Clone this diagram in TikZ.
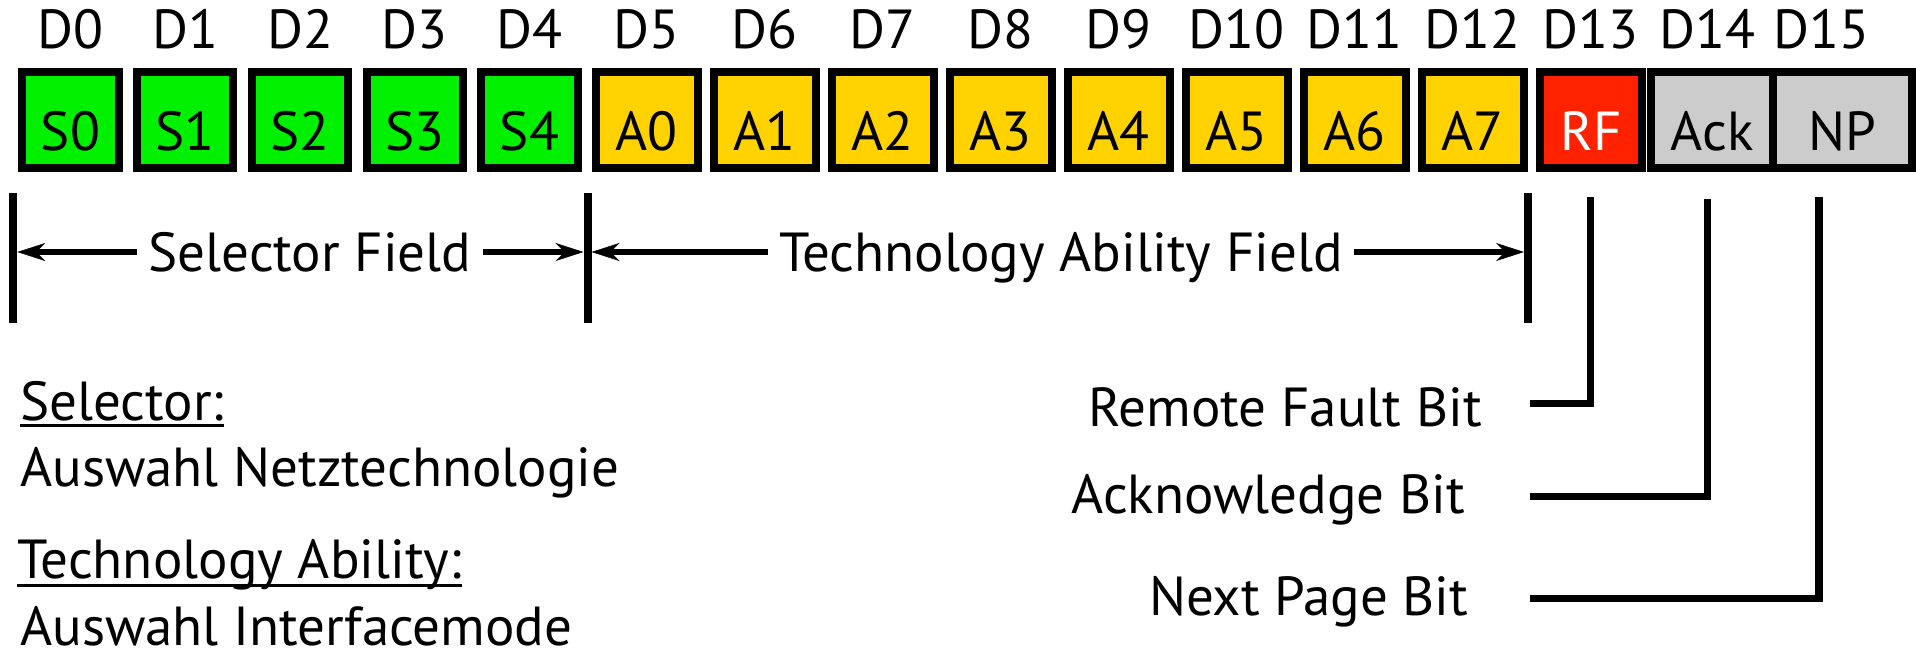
\documentclass[tikz,border=0pt]{standalone}
\usepackage{fontspec}
\setmainfont{PT Sans}
\usetikzlibrary{arrows.meta}
\definecolor{selgreen}{HTML}{00F000}
\definecolor{abilyellow}{HTML}{FFD200}
\definecolor{faultred}{HTML}{FF2200}
\definecolor{flaggrey}{HTML}{CCCCCC}
\begin{document}
\begin{tikzpicture}[x=1pt,y=-1pt,
  every node/.style={font=\fontsize{55}{60}\selectfont, inner sep=0pt},
  bitbox/.style={draw=black, line width=8pt, rectangle, minimum height=95.4pt,
                 text height=60pt, text depth=0pt},
  sbit/.style={bitbox, fill=selgreen, minimum width=96.4pt},
  abit/.style={bitbox, fill=abilyellow, minimum width=102pt},
  bitnum/.style={anchor=base},
  fieldbar/.style={line width=8pt},
  fieldlabel/.style={anchor=base, inner xsep=11pt},
  dimarrow/.style={line width=6pt,
                   -{Stealth[length=28pt,width=18pt,inset=9pt,line width=0.5pt]}},
  bitline/.style={line width=7.5pt, line join=miter},
  headline/.style={line width=3.5pt},
  note/.style={anchor=base west},
  bitname/.style={anchor=base east}
]
\useasboundingbox (0,0) rectangle (1916,648);

% selector bits S0..S4 (D0..D4)
\foreach \i in {0,...,4}{
  \node[sbit] (S\i) at ({70.5+114.75*\i},120) {S\i};
  \node[bitnum] (D\i) at ({70.5+114.75*\i},48.3) {D\i};
}
% technology ability bits A0..A7 (D5..D12)
\foreach \i in {0,...,7}{
  \pgfmathtruncatemacro\dn{\i+5}
  \node[abit] (A\i) at ({646.7+118*\i},120) {A\i};
  \node[bitnum] (D\dn) at ({646.7+118*\i},48.3) {D\dn};
}
% remote fault, acknowledge, next page (D13..D15)
\node[bitbox, fill=faultred, minimum width=102pt, text=white] (RF) at (1591,120) {RF};
\node[bitbox, fill=flaggrey, minimum width=122pt] (Ack) at (1712,120) {Ack};
\node[bitbox, fill=flaggrey, minimum width=139pt] (NP) at (1842.5,120) {NP};
\node[bitnum] (D13) at (1590,48.3) {D13};
\node[bitnum] (D14) at (1707.5,48.3) {D14};
\node[bitnum] (D15) at (1821,48.3) {D15};

% field boundaries
\coordinate (b0t) at (13.3,193.3);   \coordinate (b0b) at (13.3,323.3);
\coordinate (b1t) at (587.5,193.3);  \coordinate (b1b) at (587.5,323.3);
\coordinate (b2t) at (1528,193.3);   \coordinate (b2b) at (1528,323.3);
\draw[fieldbar] (b0t) -- (b0b);
\draw[fieldbar] (b1t) -- (b1b);
\draw[fieldbar] (b2t) -- (b2b);

% field labels with dimension arrows
\node[fieldlabel] (selfield) at (310,271) {Selector Field};
\node[fieldlabel] (tafield) at (1061,271) {Technology Ability Field};
\coordinate (selL) at (17.3,252);
\coordinate (selR) at (583.5,252);
\coordinate (taL) at (591.5,252);
\coordinate (taR) at (1524,252);
\draw[dimarrow] (selfield.west |- selL) -- (selL);
\draw[dimarrow] (selfield.east |- selR) -- (selR);
\draw[dimarrow] (tafield.west |- taL) -- (taL);
\draw[dimarrow] (tafield.east |- taR) -- (taR);

% explanations
\node[note] (selhead) at (20,420) {Selector:};
\draw[headline] ([yshift=-5.7pt]selhead.base west) -- ([yshift=-5.7pt]selhead.base east);
\node[note] (seltext) at (20,486.7) {Auswahl Netztechnologie};
\node[note] (tahead) at (17,578.3) {Technology Ability:};
\draw[headline] ([yshift=-7.3pt]tahead.base west) -- ([yshift=-7.3pt]tahead.base east);
\node[note] (tatext) at (20,645.5) {Auswahl Interfacemode};

% single bit names
\node[bitname] (rflab) at (1482,426) {Remote Fault Bit};
\node[bitname] (acklab) at (1465,513.3) {Acknowledge Bit};
\node[bitname] (nplab) at (1468.3,615) {Next Page Bit};
\coordinate (rftop) at (1590.5,196.7);  \coordinate (rfend) at (1530,403.7);
\coordinate (acktop) at (1707.5,199);   \coordinate (ackend) at (1530,496.3);
\coordinate (nptop) at (1819,196.7);    \coordinate (npend) at (1530,598.7);
\draw[bitline] (rftop) |- (rfend);
\draw[bitline] (acktop) |- (ackend);
\draw[bitline] (nptop) |- (npend);
\end{tikzpicture}
\end{document}
